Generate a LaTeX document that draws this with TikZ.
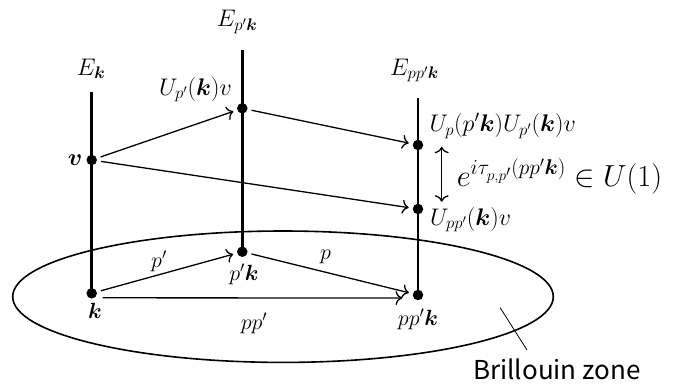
\RequirePackage{fix-cm}
\documentclass[tikz,border=0pt]{standalone}
\usepackage{amsmath,bm}
\usepackage{fontspec}
\newfontfamily\bzfont{Noto Sans CJK JP}
\usetikzlibrary{arrows.meta,shapes.geometric}
\begin{document}
\begin{tikzpicture}[x=1pt,y=-1pt,
  fiber/.style={line width=2.6pt},
  dotn/.style={circle,fill=black,inner sep=0pt,minimum size=10.5pt},
  arr/.style={line width=1.3pt,-{To[length=6.5pt,width=14pt]},shorten <=4pt,shorten >=4pt},
  dbl/.style={line width=1.3pt,{To[length=6.5pt,width=14pt]}-{To[length=6.5pt,width=14pt]}},
  lab/.style={inner sep=0pt,font=\fontsize{24}{28}\selectfont},
  biglab/.style={inner sep=0pt,font=\fontsize{30.5}{36}\selectfont},
  smalllab/.style={inner sep=0pt,font=\fontsize{22}{26}\selectfont},
  zone/.style={draw,ellipse,line width=1.6pt,inner sep=0pt,minimum width=540.6pt,minimum height=131.4pt},
]
\useasboundingbox (0,0) rectangle (679,384);
% Brillouin zone
\node[zone] (bz) at (283,296.7) {};
\coordinate (t1) at (500,307.5);
\coordinate (t2) at (527,350);
\draw[line width=0.8pt] (t1) -- (t2);
\node[inner sep=0pt,anchor=base west,font=\bzfont\fontsize{26}{30}\selectfont] (bzlab) at (473,379) {Brillouin zone};
% fibre tops
\coordinate (Lt) at (91.7,91.7);
\coordinate (Mt) at (242.3,50);
\coordinate (Rt) at (418,98.3);
% points
\coordinate (vc) at (91.7,160);
\coordinate (kc) at (91.7,293.3);
\coordinate (pkc) at (242.3,251.7);
\coordinate (ppkc) at (418,295);
\draw[fiber] (Lt) -- (kc);
\draw[fiber] (Mt) -- (pkc);
\draw[fiber] (Rt) -- (ppkc);
\node[dotn] (v) at (vc) {};
\node[dotn] (k) at (kc) {};
\node[dotn] (U) at (242.3,108.3) {};
\node[dotn] (pk) at (pkc) {};
\node[dotn] (R1) at (418,145) {};
\node[dotn] (R2) at (418,209) {};
\node[dotn] (ppk) at (ppkc) {};
% arrows
\draw[arr] (v) -- (U);
\draw[arr] (U) -- (R1);
\draw[arr] (v) -- (R2);
\draw[arr] (k) -- (pk);
\draw[arr] (pk) -- (ppk);
\draw[arr,shorten <=11pt,shorten >=16pt] ([yshift=-4.5pt]k.center) -- ([yshift=-3pt]ppk.center);
\coordinate (d1) at (441.7,146.7);
\coordinate (d2) at (441.7,201.7);
\draw[dbl] (d1) -- (d2);
% labels
\node[lab,anchor=base west] (Ek) at (76.7,75) {$E_{\bm k}$};
\node[lab,anchor=base west] (Epk) at (216.7,26.7) {$E_{p'\bm k}$};
\node[lab,anchor=base west] (Eppk) at (390,75) {$E_{pp'\bm k}$};
\node[lab,anchor=base west] (Ulab) at (159,95) {$U_{p'}(\bm k)v$};
\node[lab,anchor=base west] (R1lab) at (429.3,131.7) {$U_p(p'\bm k)U_{p'}(\bm k)v$};
\node[biglab,anchor=base west] (phase) at (456.7,186.7) {$e^{i\tau_{p,p'}(pp'\bm k)}\in U(1)$};
\node[lab,anchor=base west] (R2lab) at (430,225) {$U_{pp'}(\bm k)v$};
\node[lab] (vlab) at (75,160) {$\bm v$};
\node[smalllab,anchor=base] (klab) at (95,318) {$\bm k$};
\node[smalllab,anchor=base] (pklab) at (244,280) {$p'\bm k$};
\node[smalllab,anchor=base] (ppklab) at (418,325) {$pp'\bm k$};
\node[smalllab] (plab1) at (159,261) {$p'$};
\node[smalllab] (plab2) at (325.5,256.6) {$p$};
\node[smalllab] (pplab) at (254,323) {$pp'$};
\end{tikzpicture}
\end{document}
